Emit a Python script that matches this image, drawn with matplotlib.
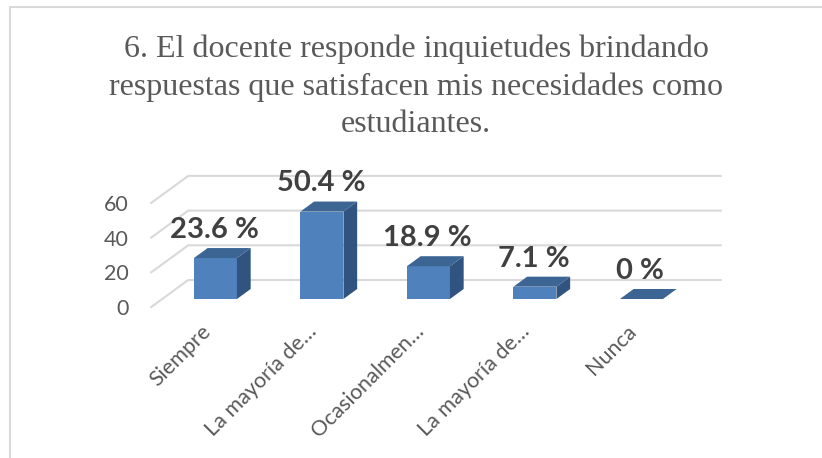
import matplotlib.pyplot as plt
from matplotlib.patches import Polygon, Rectangle

categories = ["Siempre", "La mayoría de…", "Ocasionalmen…", "La mayoría de…", "Nunca"]
values = [23.6, 50.4, 18.9, 7.1, 0]
labels = ["23.6 %", "50.4 %", "18.9 %", "7.1 %", "0 %"]
yticks = [0, 20, 40, 60]

title = ("6. El docente responde inquietudes brindando\n"
         "respuestas que satisfacen mis necesidades como\n"
         "estudiantes.")

W, H = 822, 458
fig = plt.figure(figsize=(W / 100, H / 100), dpi=100)

# axes = front edge of the floor, depth is faked with offsets
ax = fig.add_axes([151.25 / W, 151 / H, 532.5 / W, 104.1 / H])
ax.set_xlim(-0.5, 4.5)
ax.set_ylim(0, 60)
for s in ax.spines.values():
    s.set_visible(False)

DX, DY = 0.347, 15.56   # full floor depth in data units
t0, t1 = 0.296, 0.667   # bar front / back depth
hw = 0.202

grid_c = "#d9d9d9"
for v in yticks:
    ax.plot([-0.5, -0.5 + DX, 4.5 + DX], [v, v + DY, v + DY],
            color=grid_c, lw=1.5, clip_on=False, zorder=1)

front_c, side_c, top_c = "#4f81bd", "#30537f", "#3c6594"
for i, v in enumerate(values):
    x0 = i - hw + t0 * DX
    x1 = i + hw + t0 * DX
    y0 = t0 * DY
    ddx = (t1 - t0) * DX
    ddy = (t1 - t0) * DY
    if v > 0:
        ax.add_patch(Rectangle((x0, y0), x1 - x0, v, facecolor=front_c,
                               edgecolor="none", clip_on=False, zorder=3))
        ax.add_patch(Polygon([(x1, y0), (x1 + ddx, y0 + ddy),
                              (x1 + ddx, y0 + ddy + v), (x1, y0 + v)],
                             facecolor=side_c, edgecolor="none",
                             clip_on=False, zorder=3))
    ax.add_patch(Polygon([(x0, y0 + v), (x1, y0 + v), (x1 + ddx, y0 + ddy + v),
                          (x0 + ddx, y0 + ddy + v)],
                         facecolor=top_c, edgecolor="none",
                         clip_on=False, zorder=3))
    ax.text(i + t0 * DX - 0.01, v + t1 * DY + 5.8, labels[i],
            ha="center", va="baseline", fontsize=21, fontweight="bold",
            family="Lato", color="#404040", zorder=4)

ax.set_yticks(yticks)
ax.set_yticklabels([str(t) for t in yticks], family="Lato",
                   fontsize=15.5, color="#595959")
ax.set_xticks([i - 0.04 for i in range(len(categories))])
ax.set_xticklabels(categories, rotation=45, ha="right",
                   rotation_mode="anchor", family="Lato",
                   fontsize=15.5, color="#595959")
ax.tick_params(axis="y", length=0, pad=16)
ax.tick_params(axis="x", length=0, pad=10)

fig.text(416 / W, 1 - 35 / H, title, ha="center", va="top",
         family="Liberation Serif", fontsize=23, color="#595959",
         linespacing=1.36)

fig.add_artist(Rectangle((10 / W, -0.1), 1.2, 1 - 7 / H + 0.1,
                         transform=fig.transFigure, fill=False,
                         edgecolor=grid_c, lw=1.5))

fig.savefig("out.png", dpi=100)
